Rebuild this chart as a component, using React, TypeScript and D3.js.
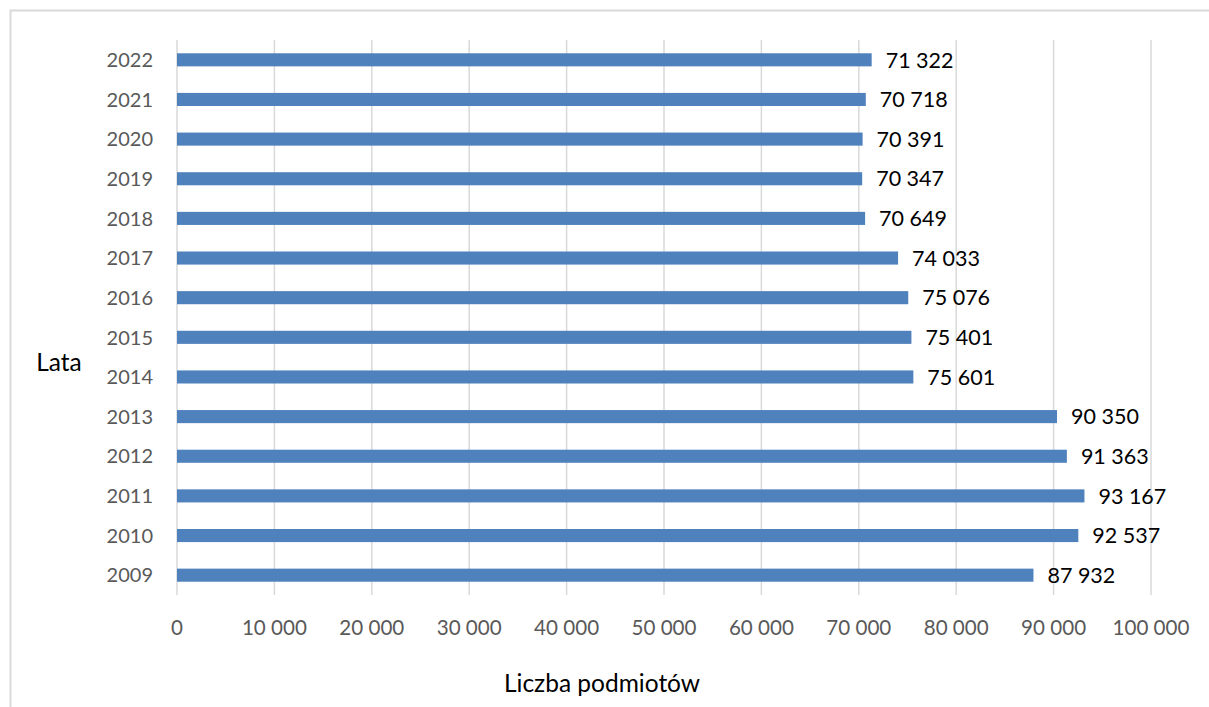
import React from "react";
import * as d3 from "d3";

// Number of entities per year
const years: string[] = [
  "2022", "2021", "2020", "2019", "2018", "2017", "2016",
  "2015", "2014", "2013", "2012", "2011", "2010", "2009",
];
const counts: number[] = [
  71322, 70718, 70391, 70347, 70649, 74033, 75076,
  75401, 75601, 90350, 91363, 93167, 92537, 87932,
];
const xTicks: number[] = [0, 10000, 20000, 30000, 40000, 50000, 60000, 70000, 80000, 90000, 100000];
const yAxisTitle = "Lata";
const xAxisTitle = "Liczba podmiotów";

const W = 1209;
const H = 707;
const plot = { left: 177, right: 1151, top: 40, bottom: 595 };
const FONT = "Lato, Carlito, Calibri, sans-serif";

// thousands separated with a space, e.g. 71 322
const fmt = (v: number) => d3.format(",")(v).replace(/,/g, " ");

export default function App() {
  const x = d3.scaleLinear().domain([0, 100000]).range([plot.left, plot.right]);
  const y = d3
    .scaleBand<string>()
    .domain(years)
    .range([plot.top, plot.bottom])
    .paddingInner(0.67)
    .paddingOuter(0.335);

  return (
    <svg
      width={W}
      height={H}
      style={{ position: "absolute", left: 0, top: 0, background: "#fff" }}
      fontFamily={FONT}
    >
      {/* chart frame */}
      <rect x={10.5} y={10.5} width={W + 20} height={H + 20} fill="none" stroke="#D9D9D9" strokeWidth={2} />

      {/* vertical gridlines */}
      {xTicks.map((t) => (
        <line
          key={"g" + t}
          x1={x(t)}
          x2={x(t)}
          y1={plot.top}
          y2={plot.bottom}
          stroke="#D9D9D9"
          strokeWidth={1.5}
        />
      ))}

      {/* bars */}
      {years.map((yr, i) => (
        <rect
          key={"b" + yr}
          x={x(0)}
          y={y(yr)!}
          width={x(counts[i]) - x(0)}
          height={y.bandwidth()}
          fill="#4F81BD"
        />
      ))}

      {/* value labels */}
      {years.map((yr, i) => (
        <text
          key={"v" + yr}
          x={x(counts[i]) + 14}
          y={y(yr)! + y.bandwidth() / 2}
          dy="0.36em"
          fontSize={21.5}
          fill="#000"
        >
          {fmt(counts[i])}
        </text>
      ))}

      {/* category labels */}
      {years.map((yr) => (
        <text
          key={"c" + yr}
          x={plot.left - 24}
          y={y(yr)! + y.bandwidth() / 2}
          dy="0.36em"
          textAnchor="end"
          fontSize={20}
          fill="#595959"
        >
          {yr}
        </text>
      ))}

      {/* x tick labels */}
      {xTicks.map((t) => (
        <text
          key={"t" + t}
          x={x(t)}
          y={628}
          dy="0.36em"
          textAnchor="middle"
          fontSize={20.6}
          fill="#595959"
        >
          {fmt(t)}
        </text>
      ))}

      {/* axis titles */}
      <text x={59} y={362} dy="0.36em" textAnchor="middle" fontSize={24.5} fill="#000">
        {yAxisTitle}
      </text>
      <text x={602} y={683} dy="0.36em" textAnchor="middle" fontSize={24.5} fill="#000">
        {xAxisTitle}
      </text>
    </svg>
  );
}
